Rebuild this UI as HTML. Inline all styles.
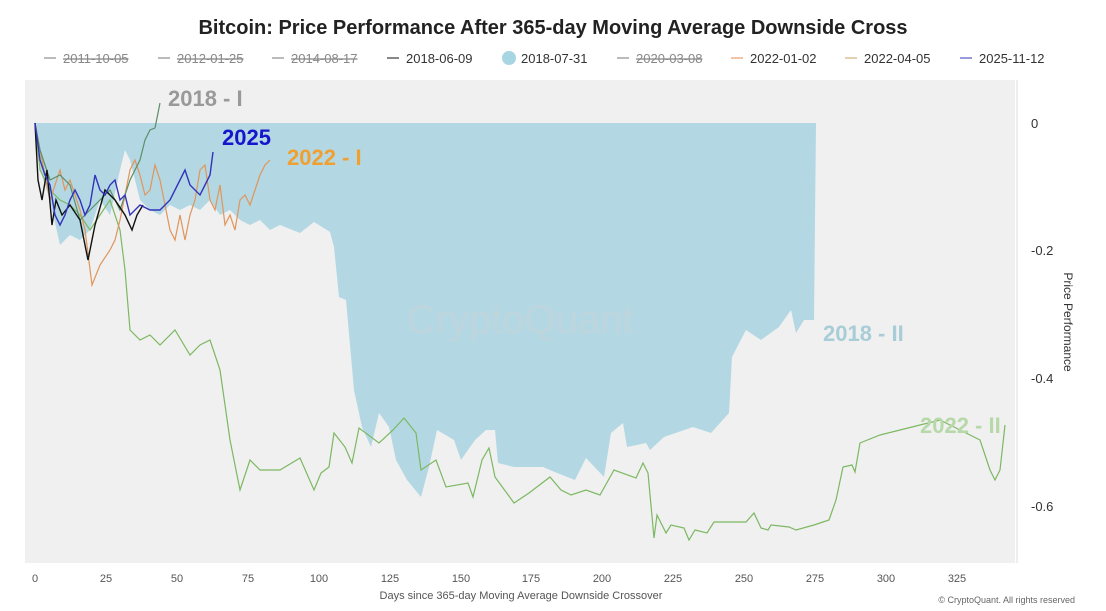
<!DOCTYPE html>
<html><head><meta charset="utf-8"><style>
body{margin:0;background:#fff;width:1106px;height:606px;overflow:hidden;font-family:"Liberation Sans",sans-serif}
</style></head><body>
<svg width="1106" height="606" xmlns="http://www.w3.org/2000/svg" font-family="Liberation Sans, sans-serif">
<text x="553" y="34" text-anchor="middle" font-size="20" font-weight="bold" fill="#222">Bitcoin: Price Performance After 365-day Moving Average Downside Cross</text>
<g font-size="13" fill="#333">
<line x1="44" y1="58" x2="56" y2="58" stroke="#777"/><text x="63" y="63" fill="#888" text-decoration="line-through">2011-10-05</text>
<line x1="158" y1="58" x2="170" y2="58" stroke="#777"/><text x="177" y="63" fill="#888" text-decoration="line-through">2012-01-25</text>
<line x1="272" y1="58" x2="284" y2="58" stroke="#777"/><text x="291" y="63" fill="#888" text-decoration="line-through">2014-08-17</text>
<line x1="387" y1="58" x2="399" y2="58" stroke="#111"/><text x="406" y="63">2018-06-09</text>
<circle cx="509" cy="58" r="7" fill="#a8d5e2"/><text x="521" y="63">2018-07-31</text>
<line x1="617" y1="58" x2="629" y2="58" stroke="#777"/><text x="636" y="63" fill="#888" text-decoration="line-through">2020-03-08</text>
<line x1="731" y1="58" x2="743" y2="58" stroke="#e08a4a"/><text x="750" y="63">2022-01-02</text>
<line x1="845" y1="58" x2="857" y2="58" stroke="#c9a060"/><text x="864" y="63">2022-04-05</text>
<line x1="960" y1="58" x2="972" y2="58" stroke="#3333bb"/><text x="979" y="63">2025-11-12</text>
</g>
<rect x="25" y="80" width="990" height="483" fill="#f0f0f0"/>
<line x1="1017" y1="80" x2="1017" y2="563" stroke="#ddd"/>
<polygon fill="#b3d8e4" points="35,123 40,170 50,200 60,245 70,235 80,240 90,230 100,200 110,215 120,170 125,150 130,160 140,200 150,210 160,215 170,205 180,210 190,205 200,210 210,200 220,215 230,210 240,220 250,225 260,220 270,230 280,225 300,233 314,222 330,232 334,247 339,297 346,300 354,390 362,427 371,447 379,413 389,427 396,460 407,480 421,497 429,467 437,430 454,440 461,460 475,440 486,430 495,430 498,463 514,467 543,467 557,473 575,480 586,458 604,477 611,433 623,423 627,447 646,443 650,450 664,437 693,427 711,433 729,413 732,357 746,330 761,340 779,327 791,310 796,333 804,320 814,320 816,123"/>
<text x="520" y="333" text-anchor="middle" font-size="40" fill="#c9d3d8" opacity="0.5">CryptoQuant</text>
<polyline fill="none" stroke="#7cb862" stroke-width="1.2" points="35,123 40,170 50,190 60,200 70,205 80,215 90,230 100,215 110,200 120,230 125,270 130,330 140,340 150,335 160,345 175,330 190,355 200,345 210,340 220,370 230,440 240,490 250,460 260,470 280,470 300,458 314,490 321,473 329,467 334,433 345,447 352,463 359,428 379,443 393,430 404,418 416,433 421,470 436,460 446,487 468,483 473,497 482,460 489,448 495,477 514,503 529,493 550,477 561,490 571,495 586,490 600,495 614,470 636,478 643,463 648,473 654,538 657,515 666,533 671,525 684,528 689,540 695,530 707,533 714,522 746,522 754,513 761,528 768,530 771,525 789,527 796,530 814,525 829,520 836,500 843,467 852,465 855,472 860,443 880,435 900,430 920,425 940,420 960,430 980,440 990,470 995,480 1000,470 1005,425"/>
<polyline fill="none" stroke="#e0955a" stroke-width="1.2" points="35,123 40,150 45,175 50,200 60,170 65,190 70,180 80,210 85,230 92,285 100,265 110,250 115,240 120,220 125,195 130,170 135,160 140,175 145,195 150,190 155,165 160,180 170,230 175,240 180,215 185,240 190,215 195,200 200,170 205,165 210,200 215,210 220,185 225,225 230,215 235,230 240,200 245,195 250,205 255,190 260,175 265,165 270,160"/>
<polyline fill="none" stroke="#5a8f6a" stroke-width="1.2" points="35,123 40,150 50,180 60,175 70,185 80,220 90,210 100,200 110,190 120,210 130,180 140,160 145,140 150,130 155,128 160,103"/>
<polyline fill="none" stroke="#111" stroke-width="1.4" points="35,123 38,180 42,200 47,170 52,225 56,200 62,215 70,205 80,220 88,260 95,225 105,190 115,200 125,215 132,230 137,215 143,205"/>
<polyline fill="none" stroke="#3333bb" stroke-width="1.4" points="35,123 40,160 45,175 50,185 55,215 60,225 65,215 70,200 75,190 80,200 85,215 90,205 95,175 100,190 105,195 110,185 115,180 120,200 125,195 130,215 135,210 140,205 150,210 160,210 170,200 180,180 185,170 190,185 200,195 205,185 210,175 213,152"/>
<text x="168" y="106" font-size="22" font-weight="bold" fill="#999">2018 - I</text>
<text x="222" y="145" font-size="22" font-weight="bold" fill="#1515cc">2025</text>
<text x="287" y="165" font-size="22" font-weight="bold" fill="#f0a030">2022 - I</text>
<text x="823" y="341" font-size="22" font-weight="bold" fill="#a8cdd6">2018 - II</text>
<text x="920" y="433" font-size="22" font-weight="bold" fill="#b7d8a8">2022 - II</text>
<g font-size="13" fill="#333">
<text x="1031" y="128">0</text><text x="1031" y="255">-0.2</text><text x="1031" y="383">-0.4</text><text x="1031" y="511">-0.6</text>
</g>
<text transform="translate(1064,322) rotate(90)" text-anchor="middle" font-size="12" fill="#333">Price Performance</text>
<g font-size="11" fill="#555" text-anchor="middle">
<text x="35" y="582">0</text><text x="106" y="582">25</text><text x="177" y="582">50</text><text x="248" y="582">75</text><text x="319" y="582">100</text><text x="390" y="582">125</text><text x="461" y="582">150</text><text x="531" y="582">175</text><text x="602" y="582">200</text><text x="673" y="582">225</text><text x="744" y="582">250</text><text x="815" y="582">275</text><text x="886" y="582">300</text><text x="957" y="582">325</text>
</g>
<text x="521" y="599" text-anchor="middle" font-size="11" fill="#555">Days since 365-day Moving Average Downside Crossover</text>
<text x="1075" y="603" text-anchor="end" font-size="9" fill="#666">© CryptoQuant. All rights reserved</text>
</svg>
</body></html>
